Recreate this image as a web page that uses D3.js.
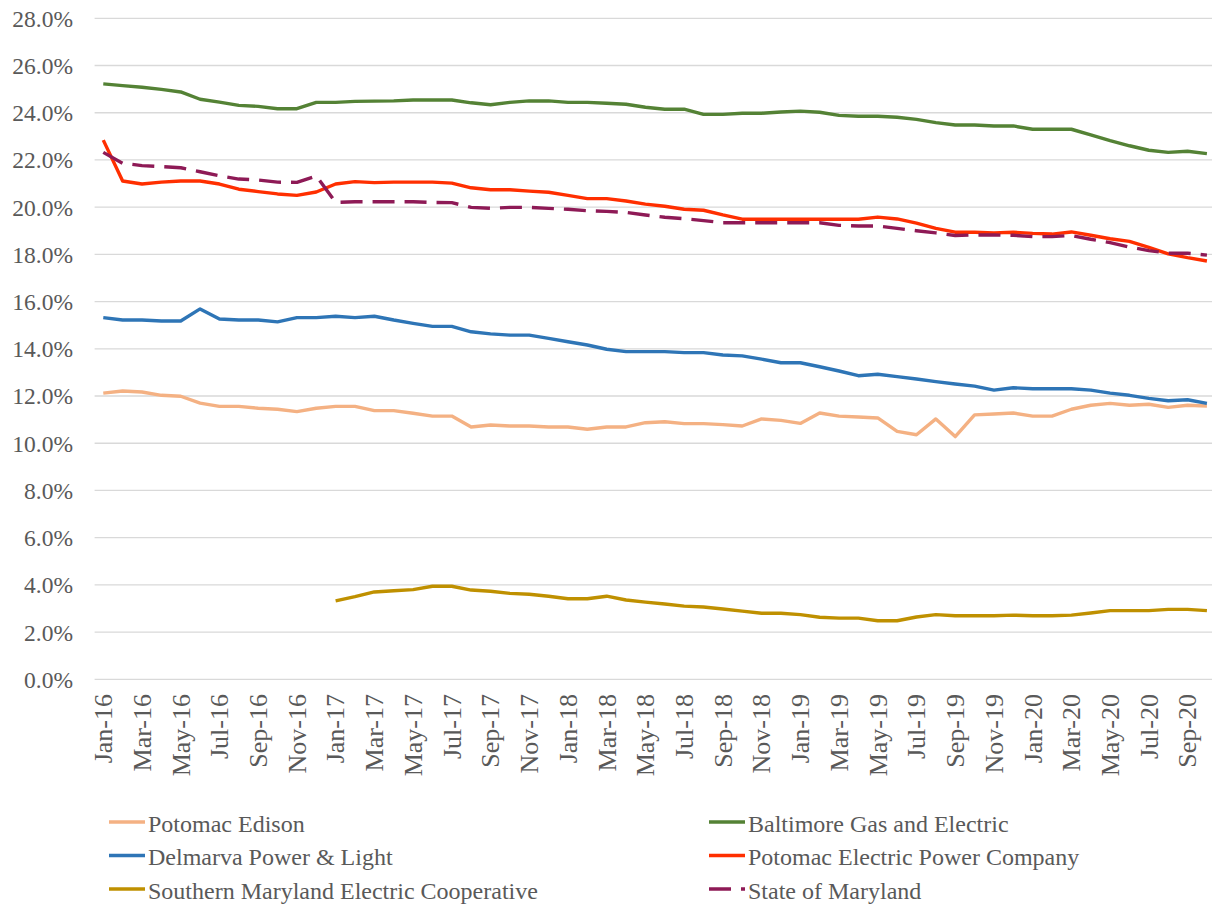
<!DOCTYPE html>
<html>
<head>
<meta charset="utf-8">
<script src="https://cdn.jsdelivr.net/npm/d3@7"></script>
<style>
    html, body { margin: 0; padding: 0; background: #fff; }
    svg { display: block; }
    text { font-family: "Liberation Serif", "Times New Roman", serif; }
</style>
</head>
<body>
<div id="chart"></div>
<script>
const months = [
    'Jan-16','Feb-16','Mar-16','Apr-16','May-16','Jun-16','Jul-16','Aug-16','Sep-16','Oct-16','Nov-16','Dec-16',
    'Jan-17','Feb-17','Mar-17','Apr-17','May-17','Jun-17','Jul-17','Aug-17','Sep-17','Oct-17','Nov-17','Dec-17',
    'Jan-18','Feb-18','Mar-18','Apr-18','May-18','Jun-18','Jul-18','Aug-18','Sep-18','Oct-18','Nov-18','Dec-18',
    'Jan-19','Feb-19','Mar-19','Apr-19','May-19','Jun-19','Jul-19','Aug-19','Sep-19','Oct-19','Nov-19','Dec-19',
    'Jan-20','Feb-20','Mar-20','Apr-20','May-20','Jun-20','Jul-20','Aug-20','Sep-20','Oct-20'
];

// values in percent
const potomacEdison = [12.12,12.21,12.17,12.03,11.99,11.70,11.56,11.56,11.48,11.44,11.34,11.48,11.56,11.56,11.38,11.38,11.27,11.15,11.15,10.69,10.77,10.73,10.73,10.69,10.69,10.59,10.69,10.69,10.87,10.91,10.83,10.83,10.79,10.73,11.03,10.97,10.84,11.28,11.15,11.11,11.07,10.50,10.36,11.03,10.28,11.20,11.24,11.28,11.15,11.15,11.44,11.61,11.69,11.61,11.65,11.52,11.61,11.58];
const bge = [25.22,25.15,25.08,24.99,24.88,24.57,24.45,24.31,24.27,24.17,24.17,24.44,24.44,24.48,24.49,24.50,24.54,24.54,24.54,24.42,24.34,24.44,24.50,24.50,24.44,24.44,24.40,24.36,24.23,24.15,24.15,23.93,23.93,23.98,23.98,24.03,24.07,24.02,23.89,23.85,23.85,23.81,23.72,23.58,23.48,23.48,23.44,23.44,23.30,23.30,23.30,23.06,22.82,22.60,22.41,22.32,22.37,22.27];
const delmarva = [15.32,15.22,15.22,15.18,15.18,15.69,15.26,15.22,15.22,15.14,15.32,15.32,15.38,15.32,15.38,15.22,15.08,14.95,14.95,14.72,14.63,14.58,14.58,14.44,14.30,14.16,13.98,13.88,13.88,13.88,13.84,13.84,13.74,13.70,13.56,13.41,13.41,13.24,13.06,12.86,12.92,12.82,12.72,12.61,12.51,12.42,12.25,12.35,12.31,12.31,12.31,12.25,12.12,12.03,11.90,11.80,11.84,11.69];
const pepco = [22.84,21.11,20.98,21.06,21.11,21.11,20.98,20.76,20.66,20.56,20.50,20.64,20.98,21.08,21.04,21.06,21.06,21.06,21.02,20.82,20.74,20.74,20.68,20.63,20.50,20.36,20.36,20.26,20.13,20.04,19.91,19.87,19.67,19.49,19.49,19.49,19.49,19.49,19.49,19.49,19.58,19.50,19.32,19.10,18.94,18.94,18.91,18.94,18.89,18.86,18.95,18.81,18.66,18.55,18.30,18.02,17.86,17.72];
const smeco = [null,null,null,null,null,null,null,null,null,null,null,null,3.32,3.50,3.70,3.75,3.80,3.94,3.94,3.78,3.73,3.64,3.60,3.52,3.41,3.41,3.52,3.36,3.27,3.19,3.10,3.06,2.98,2.89,2.80,2.80,2.74,2.63,2.59,2.59,2.48,2.48,2.64,2.74,2.69,2.69,2.69,2.72,2.69,2.69,2.72,2.81,2.91,2.91,2.91,2.96,2.96,2.91];
const stateOfMaryland = [22.32,21.86,21.76,21.72,21.67,21.50,21.33,21.19,21.15,21.06,21.05,21.32,20.20,20.23,20.23,20.23,20.23,20.20,20.19,19.99,19.95,19.99,19.99,19.95,19.91,19.85,19.82,19.78,19.67,19.57,19.51,19.43,19.34,19.34,19.34,19.34,19.34,19.34,19.23,19.20,19.20,19.10,19.00,18.91,18.80,18.82,18.82,18.81,18.75,18.75,18.80,18.64,18.50,18.31,18.16,18.05,18.05,17.97];

const seriesNames = ['Potomac Edison', 'Baltimore Gas and Electric', 'Delmarva Power & Light',
    'Potomac Electric Power Company', 'Southern Maryland Electric Cooperative', 'State of Maryland'];
const yTicks = [0, 2, 4, 6, 8, 10, 12, 14, 16, 18, 20, 22, 24, 26, 28];

const series = [
    { name: seriesNames[0], values: potomacEdison, color: '#F4B183', dash: null },
    { name: seriesNames[1], values: bge, color: '#548235', dash: null },
    { name: seriesNames[2], values: delmarva, color: '#2E75B6', dash: null },
    { name: seriesNames[3], values: pepco, color: '#FF2F00', dash: null },
    { name: seriesNames[4], values: smeco, color: '#BF9000', dash: null },
    { name: seriesNames[5], values: stateOfMaryland, color: '#8E1A56', dash: '22,10' }
];

const width = 1212, height = 905;
const margin = { top: 18.3, left: 93.6, right: 1216.6, bottom: 679.3 };
const font = '"Liberation Serif", "Times New Roman", serif';
const textColor = '#595959';

const svg = d3.select('#chart').append('svg')
    .attr('width', width)
    .attr('height', height)
    .attr('font-family', font);

svg.append('rect').attr('width', width).attr('height', height).attr('fill', '#fff');

const x = d3.scalePoint()
    .domain(months)
    .range([margin.left, margin.right])
    .padding(0.5);

const y = d3.scaleLinear()
    .domain([0, 28])
    .range([margin.bottom, margin.top]);

// gridlines
svg.append('g')
    .selectAll('line')
    .data(yTicks)
    .join('line')
    .attr('x1', margin.left + 1)
    .attr('x2', width)
    .attr('y1', d => y(d))
    .attr('y2', d => y(d))
    .attr('stroke', '#D9D9D9')
    .attr('stroke-width', 1.3);

// y labels
svg.append('g')
    .selectAll('text')
    .data(yTicks)
    .join('text')
    .attr('x', 73)
    .attr('y', d => y(d))
    .attr('dy', '0.36em')
    .attr('text-anchor', 'end')
    .attr('fill', textColor)
    .attr('font-family', font)
    .style('font-size', '23.5px')
    .text(d => d.toFixed(1) + '%');

// x labels, every other month, rotated
svg.append('g')
    .selectAll('text')
    .data(months.filter((d, i) => i % 2 === 0))
    .join('text')
    .attr('transform', d => `translate(${x(d)},694) rotate(-90)`)
    .attr('dy', '0.34em')
    .attr('text-anchor', 'end')
    .attr('fill', textColor)
    .attr('font-family', font)
    .style('font-size', '26px')
    .text(d => d);

const line = d3.line()
    .defined(d => d != null)
    .x((d, i) => x(months[i]))
    .y(d => y(d));

svg.append('g')
    .selectAll('path')
    .data(series)
    .join('path')
    .attr('d', d => line(d.values))
    .attr('fill', 'none')
    .attr('stroke', d => d.color)
    .attr('stroke-width', 3.4)
    .attr('stroke-linejoin', 'round')
    .attr('stroke-dasharray', d => d.dash);

// legend: two columns, filled down first
const legendRows = [822, 855.5, 889];
const legendCols = [109, 709];
const legend = svg.append('g')
    .selectAll('g')
    .data([series[0], series[2], series[4], series[1], series[3], series[5]])
    .join('g')
    .attr('transform', (d, i) => `translate(${legendCols[Math.floor(i / 3)]},${legendRows[i % 3]})`);

legend.append('line')
    .attr('x1', 0)
    .attr('x2', 36)
    .attr('stroke', d => d.color)
    .attr('stroke-width', 3.4)
    .attr('stroke-dasharray', d => d.dash);

legend.append('text')
    .attr('x', 39)
    .attr('y', 9.5)
    .attr('fill', textColor)
    .attr('font-family', font)
    .style('font-size', '24px')
    .text(d => d.name);
</script>
</body>
</html>
